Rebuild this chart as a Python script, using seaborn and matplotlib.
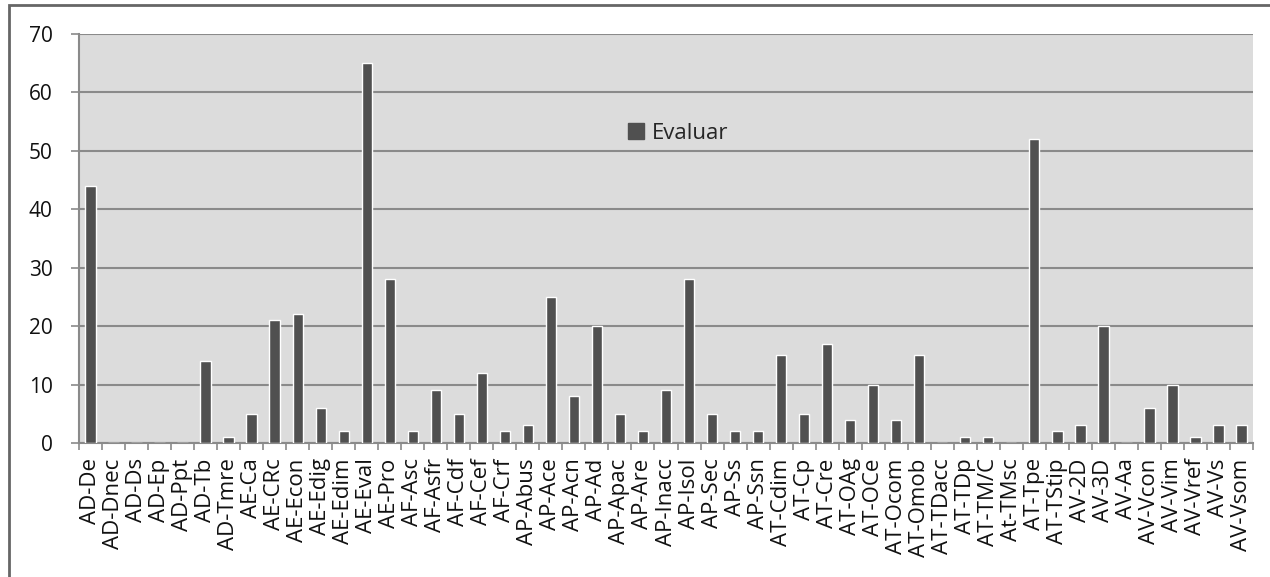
import matplotlib
matplotlib.use("Agg")
import matplotlib.pyplot as plt
from matplotlib.patches import Patch, Rectangle
import seaborn as sns
import pandas as pd
import numpy as np

categories = [
    "AD-De", "AD-Dnec", "AD-Ds", "AD-Ep", "AD-Ppt", "AD-Tb", "AD-Tmre",
    "AE-Ca", "AE-CRc", "AE-Econ", "AE-Edig", "AE-Edim", "AE-Eval", "AE-Pro",
    "AF-Asc", "AF-Asfr", "AF-Cdf", "AF-Cef", "AF-Crf",
    "AP-Abus", "AP-Ace", "AP-Acn", "AP-Ad", "AP-Apac", "AP-Are", "AP-Inacc",
    "AP-Isol", "AP-Sec", "AP-Ss", "AP-Ssn",
    "AT-Cdim", "AT-Cp", "AT-Cre", "AT-OAg", "AT-OCe", "AT-Ocom", "AT-Omob",
    "AT-TDacc", "AT-TDp", "AT-TM/C", "At-TMsc", "AT-Tpe", "AT-TStip",
    "AV-2D", "AV-3D", "AV-Aa", "AV-Vcon", "AV-Vim", "AV-Vref", "AV-Vs", "AV-Vsom",
]
evaluar = [
    44, 0, 0, 0, 0, 14, 1,
    5, 21, 22, 6, 2, 65, 28,
    2, 9, 5, 12, 2,
    3, 25, 8, 20, 5, 2, 9,
    28, 5, 2, 2,
    15, 5, 17, 4, 10, 4, 15,
    0, 1, 1, 0, 52, 2,
    3, 20, 0, 6, 10, 1, 3, 3,
]
series_name = "Evaluar"
y_ticks = [0, 10, 20, 30, 40, 50, 60, 70]

sns.set_theme(style="white")
plt.rcParams["font.family"] = ["Open Sans", "DejaVu Sans"]

df = pd.DataFrame({"cat": categories, "val": evaluar})

fig = plt.figure(figsize=(12.7, 5.77), dpi=100)
ax = fig.add_axes([79 / 1270, 1 - 443 / 577, (1253 - 79) / 1270, (443 - 34) / 577])
ax.set_facecolor("#dcdcdc")

sns.barplot(data=df, x="cat", y="val", color="#505050", width=0.45,
            saturation=1, ax=ax, zorder=3)

ax.set_xlim(-0.5, len(categories) - 0.5)
ax.set_ylim(0, 70)
ax.set_yticks(y_ticks)
ax.yaxis.grid(True, color="#8a8a8a", linewidth=1.5, zorder=1)
ax.set_axisbelow(True)
ax.set_xlabel("")
ax.set_ylabel("")

# category labels centred under bars, tick marks on category boundaries
ax.set_xticks(range(len(categories)))
ax.set_xticklabels(categories, rotation=90, fontsize=16, color="#111111")
ax.tick_params(axis="x", which="major", length=0, pad=11)
ax.set_xticks(np.arange(-0.5, len(categories), 1.0), minor=True)
ax.tick_params(axis="x", which="minor", length=5, width=1.2, color="#8a8a8a",
               direction="out", bottom=True)
ax.tick_params(axis="y", length=6, width=1.2, color="#8a8a8a", left=True,
               labelsize=15, labelcolor="#111111", pad=13)

for side in ["top", "right"]:
    ax.spines[side].set_visible(False)
for side in ["left", "bottom"]:
    ax.spines[side].set_color("#8a8a8a")
    ax.spines[side].set_linewidth(1.5)

handle = Patch(facecolor="#505050", edgecolor="#505050", label=series_name)
ax.legend(handles=[handle], loc="center left", bbox_to_anchor=(0.458, 0.757),
          frameon=False, fontsize=16, handlelength=0.75, handleheight=0.75,
          handletextpad=0.35, borderpad=0)

# outer frame around the chart
fig.patches.append(Rectangle((9 / 1270, -0.1), 1.2, 1 - 5 / 577 + 0.1,
                             transform=fig.transFigure, fill=False,
                             edgecolor="#666666", linewidth=2))

fig.savefig("out.png", dpi=100, facecolor="white")
